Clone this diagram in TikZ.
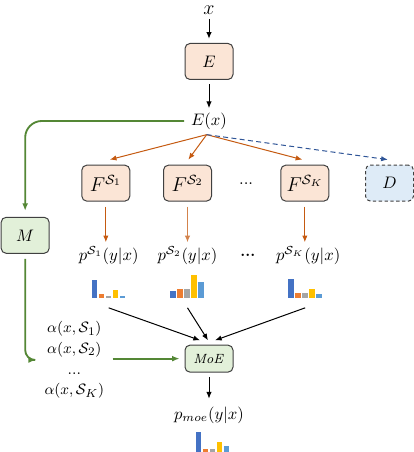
\documentclass[tikz,border=0pt]{standalone}
\usepackage{amsmath}
\usepackage{amssymb}
\usepackage{xcolor}
\usepackage{tikz}
\usetikzlibrary{calc}
\usetikzlibrary{positioning}
\usetikzlibrary{arrows.meta}

\definecolor{boxorange}{RGB}{251,229,214}
\definecolor{boxgreen}{RGB}{226,240,217}
\definecolor{boxblue}{RGB}{222,235,247}
\definecolor{lineorange}{RGB}{197,90,17}
\definecolor{linegreen}{RGB}{84,135,53}
\definecolor{lineblue}{RGB}{47,85,151}
\definecolor{barblue}{RGB}{68,114,196}
\definecolor{barorange}{RGB}{237,125,49}
\definecolor{bargray}{RGB}{165,165,165}
\definecolor{bargold}{RGB}{255,192,0}
\definecolor{barlight}{RGB}{91,155,213}

% five bars drawn on top of an empty histo node
\newcommand{\histbars}[6]{%
  \fill[barblue]   ([xshift=0pt]#1.south west)    rectangle ++(3.3pt,#2);
  \fill[barorange] ([xshift=4.2pt]#1.south west)  rectangle ++(3.3pt,#3);
  \fill[bargray]   ([xshift=8.4pt]#1.south west)  rectangle ++(3.3pt,#4);
  \fill[bargold]   ([xshift=12.6pt]#1.south west) rectangle ++(3.3pt,#5);
  \fill[barlight]  ([xshift=16.8pt]#1.south west) rectangle ++(3.3pt,#6);
}

\tikzset{
  myarrow/.style={
    draw=black,
    line width=0.6pt,
    -{Latex[length=4pt,width=3.2pt]},
    shorten <=2.5pt,
    shorten >=2.5pt,
  },
  orangearrow/.style={
    draw=lineorange,
    line width=0.6pt,
    -{Latex[length=4pt,width=3.2pt]},
  },
  bluearrow/.style={
    draw=lineblue,
    line width=0.6pt,
    dash pattern=on 3pt off 2pt,
    -{Latex[length=4pt,width=3.2pt]},
  },
  greenarrow/.style={
    draw=linegreen,
    line width=1.1pt,
    -{Latex[length=4.5pt,width=3.6pt]},
  },
  mybox/.style={
    draw=black!75,
    shape=rectangle,
    line width=0.6pt,
    rounded corners=3pt,
    align=center,
    inner sep=2pt,
    minimum width=28.8pt,
    minimum height=21.6pt,
  },
  expertbox/.style={mybox, fill=boxorange},
  gatebox/.style={mybox, fill=boxgreen},
  discbox/.style={mybox, fill=boxblue, dash pattern=on 2pt off 1.5pt},
  mylabel/.style={inner sep=0pt},
  histo/.style={inner sep=0pt, minimum width=20.1pt, minimum height=14pt},
}

\begin{document}
\begin{tikzpicture}
    \useasboundingbox (0,0) rectangle (248.4pt,-271.2pt);

    \node[mylabel, font=\large] (xin) at (125.4pt,-6pt) {$x$};
    \node[expertbox] (E)  [below=17pt of xin]  {$E$};
    \node[mylabel]   (Ex) [below=19.4pt of E]  {$E(x)$};

    \node[expertbox, font=\large] (F2) [below=21pt of Ex, xshift=-12.9pt] {$F^{\mathcal{S}_2}$};
    \node[expertbox, font=\large] (F1) [left=19.6pt of F2]  {$F^{\mathcal{S}_1}$};
    \node[expertbox, font=\large] (FK) [right=41pt of F2]   {$F^{\mathcal{S}_K}$};
    \node[discbox]                (D)  [right=21.4pt of FK] {$D$};
    \node[mylabel] (Fdots) at ($(F2)!0.5!(FK)$) {...};

    \node[gatebox] (M) [left=19pt of F1, yshift=-31.3pt] {$M$};

    \node[mylabel] (p1) [below=26.8pt of F1, xshift=1.7pt] {$p^{\mathcal{S}_1}(y|x)$};
    \node[mylabel] (p2) [below=26.8pt of F2]               {$p^{\mathcal{S}_2}(y|x)$};
    \node[mylabel] (pK) [below=26.8pt of FK, xshift=2pt]   {$p^{\mathcal{S}_K}(y|x)$};
    \node[mylabel, font=\small\bfseries] (pdots) at ($(p2)!0.5!(pK)$) {...};

    \node[histo] (h1) [below=5.2pt of p1] {};
    \node[histo] (h2) [below=5.2pt of p2] {};
    \node[histo] (hK) [below=5.2pt of pK, xshift=-1.8pt] {};
    \histbars{h1}{10.8pt}{2.4pt}{1.2pt}{4.8pt}{1.2pt}
    \histbars{h2}{4.2pt}{5.4pt}{5.4pt}{13.8pt}{9.6pt}
    \histbars{hK}{11.4pt}{3pt}{3pt}{5.4pt}{2.4pt}

    \node[gatebox, minimum height=16.2pt, font=\footnotesize] (MoE) [below=129pt of Ex] {$\mathit{MoE}$};
    \node[mylabel, align=center, font={\fontsize{9.5}{12.4}\selectfont}] (alpha) [left=48pt of MoE, yshift=-0.8pt]
      {$\alpha(x,\mathcal{S}_1)$\\ $\alpha(x,\mathcal{S}_2)$\\ ...\\ $\alpha(x,\mathcal{S}_K)$};

    \node[mylabel] (pmoe) [below=20.4pt of MoE] {$p_{moe}(y|x)$};
    \node[histo] (hm) [below=2.8pt of pmoe, xshift=2.4pt] {};
    \histbars{hm}{12.6pt}{2.4pt}{2.4pt}{6.6pt}{4.2pt}

    \draw[myarrow] (xin) -- (E);
    \draw[myarrow] (E) -- (Ex);

    \coordinate (fork) at ([xshift=-1.4pt, yshift=-3pt]Ex.south);
    \draw[orangearrow] (fork) -- ([xshift=2.4pt, yshift=3pt]F1.north);
    \draw[orangearrow] (fork) -- ([xshift=0.5pt, yshift=3pt]F2.north);
    \draw[orangearrow] (fork) -- ([xshift=-1.5pt, yshift=3pt]FK.north);
    \draw[bluearrow]   (fork) -- ([xshift=-1pt, yshift=3pt]D.north);

    \draw[orangearrow, shorten <=3pt, shorten >=2.4pt] (F1.south) -- (F1.south |- p1.north);
    \draw[orangearrow, shorten <=3pt, shorten >=2.4pt, draw=lineorange!75] (F2.south) -- (F2.south |- p2.north);
    \draw[orangearrow, shorten <=3pt, shorten >=2.4pt] (FK.south) -- (FK.south |- pK.north);

    \draw[greenarrow, rounded corners=10pt, shorten <=4pt, shorten >=3.6pt] (Ex.west) -| (M.north);
    \draw[greenarrow, rounded corners=6pt, shorten <=3pt, shorten >=5pt] (M.south) |- (alpha.west);
    \draw[greenarrow, shorten <=4.8pt, shorten >=3pt] (alpha.east |- MoE.west) -- (MoE.west);

    \draw[myarrow, shorten <=0pt, shorten >=0pt] ([yshift=-6pt]h1.south) -- ([xshift=-5.4pt, yshift=2.6pt]MoE.north);
    \draw[myarrow, shorten <=0pt, shorten >=0pt] ([yshift=-6pt]h2.south) -- ([xshift=-0.6pt, yshift=2.6pt]MoE.north);
    \draw[myarrow, shorten <=0pt, shorten >=0pt] ([yshift=-6pt]hK.south) -- ([xshift=3.6pt, yshift=2.6pt]MoE.north);

    \draw[myarrow, shorten >=4.8pt] (MoE) -- (pmoe);
\end{tikzpicture}
\end{document}
